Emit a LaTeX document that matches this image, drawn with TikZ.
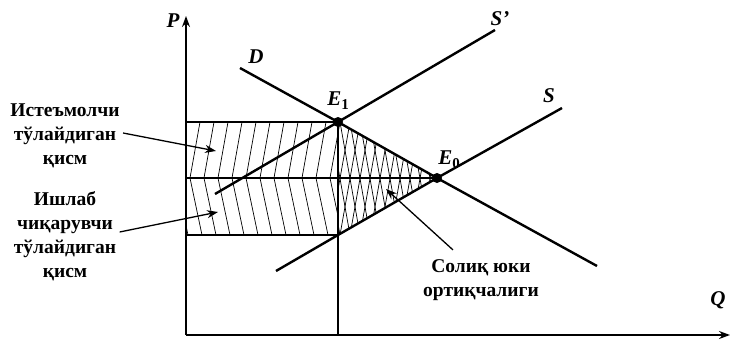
\documentclass[tikz,border=0pt]{standalone}
\usepackage{fontspec}
\setmainfont{Liberation Serif}
\usetikzlibrary{arrows.meta}

\tikzset{
  curve/.style={line width=2.4pt},
  level/.style={line width=1.6pt},
  hatch/.style={line width=0.7pt},
  eqdot/.style={circle, fill=black, inner sep=0pt, minimum size=10pt},
  label/.style={font=\fontsize{19.5}{24}\selectfont\bfseries, align=center},
  letter/.style={font=\fontsize{21}{24}\selectfont\bfseries\itshape},
  pointer/.style={line width=1.3pt, -{Stealth[length=11pt,width=8pt]}}
}
\newcommand{\eqsub}[1]{\raisebox{-4pt}{\fontsize{15}{15}\selectfont\upshape #1}}

\begin{document}
\begin{tikzpicture}[x=1pt,y=-1pt]
\useasboundingbox (0,0) rectangle (731,351);

% main points
\coordinate (O) at (186,335);
\coordinate (E1pt) at (338,122);
\coordinate (E0pt) at (437,178);
\coordinate (Sb) at (338,235);

% hatching, consumer part
\begin{scope}
  \clip (186,122) rectangle (338,178);
  \foreach \x in {176,190,...,350}
    \draw[hatch] (\x,178) -- ++(10,-56);
\end{scope}
% hatching, producer part
\begin{scope}
  \clip (186,178) rectangle (338,235);
  \foreach \x in {176,190,...,350}
    \draw[hatch] (\x,178) -- ++(12,57);
\end{scope}
% cross hatching, deadweight loss
\begin{scope}
  \clip (E1pt) -- (E0pt) -- (Sb) -- cycle;
  \foreach \x in {300,310,...,460} {
    \draw[hatch] (\x,235) -- ++(20,-113);
    \draw[hatch] (\x,122) -- ++(20,113);
  }
\end{scope}

% axes
\draw[line width=1.6pt, -{Stealth[length=11pt,width=8pt]}] (O) -- (186,16);
\draw[line width=1.6pt, -{Stealth[length=11pt,width=8pt]}] (O) -- (730,335);
\node[letter] (P) at (173,21) {P};
\node[letter] (Q) at (718,300) {Q};

% price levels and quantity
\draw[level] (186,122) -- (E1pt);
\draw[level] (186,178) -- (E0pt);
\draw[level] (186,235) -- (Sb);
\draw[level] (E1pt) -- (338,335);

% demand and supply
\coordinate (Dtop) at (240,68);
\coordinate (Dend) at (597,266);
\coordinate (Sptop) at (495,30);
\coordinate (Spend) at (215,194);
\coordinate (Stop) at (562,108);
\coordinate (Send) at (276,271);
\draw[curve] (Dtop) -- (E1pt) -- (E0pt) -- (Dend);
\draw[curve] (Spend) -- (E1pt) -- (Sptop);
\draw[curve] (Send) -- (Sb) -- (E0pt) -- (Stop);

\node[letter] (D) at (256,57) {D};
\node[letter] (Sp) at (500,19) {S’};
\node[letter] (S) at (549,96) {S};

\node[eqdot] (E1) at (E1pt) {};
\node[eqdot] (E0) at (E0pt) {};
\node[letter] (E1lab) at (338,101) {E\eqsub{1}};
\node[letter] (E0lab) at (449,160) {E\eqsub{0}};

% labels with pointers
\node[label] (cons) at (65,136) {Истеъмолчи\\тўлайдиган\\қисм};
\node[label] (prod) at (65,236) {Ишлаб\\чиқарувчи\\тўлайдиган\\қисм};
\node[label] (tax) at (481,280) {Солиқ юки\\ортиқчалиги};

\coordinate (consTip) at (216,151);
\coordinate (prodTip) at (218,212);
\coordinate (taxTip) at (386,189);
\draw[pointer] ([xshift=0pt,yshift=3pt]cons.east) -- (consTip);
\draw[pointer] ([xshift=0pt,yshift=4pt]prod.east) -- (prodTip);
\draw[pointer] ([xshift=-28pt,yshift=6pt]tax.north) -- (taxTip);
\end{tikzpicture}
\end{document}
